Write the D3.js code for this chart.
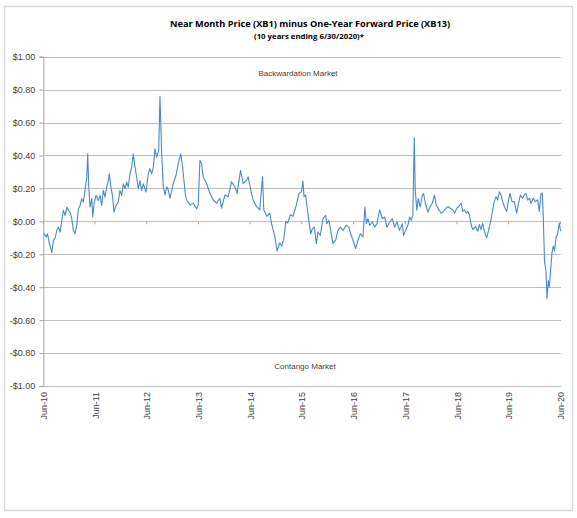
<!DOCTYPE html>
<html>
<head>
<meta charset="utf-8">
<script src="https://cdn.jsdelivr.net/npm/d3@7"></script>
<style>
  html, body { margin: 0; padding: 0; background: #fff; }
  svg { display: block; }
</style>
</head>
<body>
<svg id="chart" width="577" height="518"></svg>
<script>
// ---- Data ----
const titleText = "Near Month Price (XB1) minus One-Year Forward Price (XB13)";
const subtitleText = "(10 years ending 6/30/2020)*";
const upperNote = "Backwardation Market";
const lowerNote = "Contango Market";

const yTickValues = [1.0, 0.8, 0.6, 0.4, 0.2, 0.0, -0.2, -0.4, -0.6, -0.8, -1.0];
const xTickLabels = ["Jun-10","Jun-11","Jun-12","Jun-13","Jun-14","Jun-15","Jun-16","Jun-17","Jun-18","Jun-19","Jun-20"];
const xTickYears = [2010,2011,2012,2013,2014,2015,2016,2017,2018,2019,2020];

// decimal-year dates of the series
const seriesYears = [
2010.500,2010.548,2010.573,2010.612,2010.658,2010.689,2010.722,2010.755,2010.786,2010.819,
2010.851,2010.882,2010.915,2010.948,2010.979,2011.012,2011.044,2011.075,2011.108,2011.141,
2011.172,2011.205,2011.237,2011.268,2011.301,2011.334,2011.353,2011.373,2011.398,2011.431,
2011.450,2011.475,2011.514,2011.558,2011.591,2011.624,2011.654,2011.687,2011.720,2011.751,
2011.770,2011.797,2011.836,2011.861,2011.900,2011.944,2011.977,2012.010,2012.041,2012.073,
2012.106,2012.137,2012.170,2012.203,2012.234,2012.266,2012.299,2012.330,2012.363,2012.396,
2012.427,2012.479,2012.523,2012.556,2012.589,2012.620,2012.653,2012.685,2012.724,2012.749,
2012.782,2012.813,2012.846,2012.878,2012.909,2012.942,2013.006,2013.058,2013.102,2013.149,
2013.187,2013.212,2013.237,2013.264,2013.328,2013.392,2013.458,2013.488,2013.521,2013.554,
2013.585,2013.651,2013.714,2013.778,2013.844,2013.907,2013.940,2014.004,2014.068,2014.133,
2014.197,2014.241,2014.307,2014.357,2014.423,2014.454,2014.519,2014.550,2014.616,2014.680,
2014.732,2014.757,2014.820,2014.873,2014.905,2014.969,2015.013,2015.066,2015.104,2015.143,
2015.182,2015.220,2015.272,2015.322,2015.388,2015.438,2015.485,2015.515,2015.535,2015.568,
2015.593,2015.631,2015.664,2015.697,2015.736,2015.774,2015.805,2015.851,2015.902,2015.954,
2015.979,2016.017,2016.050,2016.095,2016.147,2016.191,2016.238,2016.288,2016.353,2016.403,
2016.436,2016.481,2016.533,2016.577,2016.623,2016.674,2016.712,2016.739,2016.770,2016.803,
2016.855,2016.900,2016.944,2016.996,2017.048,2017.093,2017.137,2017.189,2017.241,2017.286,
2017.330,2017.382,2017.434,2017.460,2017.498,2017.543,2017.575,2017.608,2017.639,2017.666,
2017.685,2017.716,2017.743,2017.782,2017.820,2017.846,2017.884,2017.929,2017.975,2018.014,
2018.058,2018.091,2018.141,2018.187,2018.232,2018.284,2018.315,2018.361,2018.411,2018.450,
2018.488,2018.527,2018.573,2018.604,2018.637,2018.670,2018.701,2018.734,2018.759,2018.797,
2018.849,2018.894,2018.927,2018.959,2018.990,2019.023,2019.068,2019.106,2019.152,2019.183,
2019.216,2019.249,2019.280,2019.313,2019.346,2019.376,2019.409,2019.454,2019.492,2019.519,
2019.558,2019.602,2019.647,2019.685,2019.718,2019.763,2019.795,2019.828,2019.859,2019.892,
2019.925,2019.969,2020.008,2020.052,2020.085,2020.118,2020.143,2020.162,2020.187,2020.214,
2020.234,2020.259,2020.278,2020.303,2020.330,2020.355,2020.380,2020.407,2020.438,2020.471,
2020.496
];

// near month minus one-year forward spread ($)
const seriesValues = [
-0.070,-0.095,-0.075,-0.135,-0.190,-0.115,-0.100,-0.055,-0.035,-0.065,
 0.005, 0.067, 0.036, 0.087, 0.067, 0.056, 0.016,-0.055,-0.075,-0.024,
 0.077, 0.097, 0.138, 0.117, 0.188, 0.268, 0.410, 0.208, 0.087, 0.138,
 0.026, 0.107, 0.158, 0.127, 0.158, 0.097, 0.188, 0.147, 0.208, 0.248,
 0.289, 0.218, 0.147, 0.056, 0.097, 0.117, 0.188, 0.158, 0.228, 0.198,
 0.238, 0.208, 0.289, 0.330, 0.410, 0.330, 0.268, 0.198, 0.248, 0.188,
 0.228, 0.178, 0.289, 0.320, 0.289, 0.330, 0.440, 0.390, 0.430, 0.760,
 0.410, 0.210, 0.160, 0.210, 0.190, 0.140, 0.230, 0.280, 0.350, 0.410,
 0.330, 0.250, 0.170, 0.130, 0.100, 0.110, 0.077, 0.100, 0.370, 0.350,
 0.270, 0.230, 0.170, 0.130, 0.110, 0.140, 0.080, 0.160, 0.150, 0.240,
 0.210, 0.170, 0.310, 0.230, 0.250, 0.270, 0.170, 0.130, 0.090, 0.070,
 0.270, 0.070, 0.030, 0.050,-0.010,-0.090,-0.180,-0.130,-0.150,-0.110,
 0.000,-0.010, 0.040, 0.030, 0.100, 0.170, 0.180, 0.245, 0.150, 0.160,
 0.090, 0.000,-0.075,-0.045,-0.035,-0.135,-0.065,-0.085, 0.016, 0.036,
-0.014, 0.006,-0.055,-0.135,-0.115,-0.055,-0.035,-0.055,-0.024,-0.035,
-0.075,-0.115,-0.165,-0.115,-0.075,-0.095, 0.087,-0.014, 0.016,-0.024,
-0.004,-0.035,-0.014, 0.070, 0.016, 0.026,-0.035,-0.004, 0.016,-0.035,
-0.004,-0.055,-0.014,-0.085,-0.055,-0.024, 0.026, 0.006, 0.036, 0.507,
 0.188, 0.067, 0.138, 0.087, 0.158, 0.168, 0.107, 0.056, 0.090, 0.110,
 0.160, 0.100, 0.070, 0.050, 0.060, 0.080, 0.090, 0.080, 0.070, 0.050,
 0.080, 0.090, 0.110, 0.060, 0.070, 0.050, 0.060, 0.040,-0.010,-0.050,
-0.030,-0.060,-0.020,-0.050,-0.010,-0.060,-0.100,-0.050, 0.010, 0.070,
 0.120, 0.150, 0.130, 0.180, 0.160, 0.120, 0.090, 0.060, 0.130, 0.170,
 0.120, 0.120, 0.050, 0.110, 0.160, 0.140, 0.160, 0.170, 0.130, 0.140,
 0.110, 0.140, 0.120, 0.130, 0.060, 0.170, 0.170, 0.030,-0.250,-0.300,
-0.470,-0.360,-0.400,-0.300,-0.190,-0.150,-0.180,-0.100,-0.080,-0.010,
-0.060
];

// ---- Drawing ----
function decimalYearToDate(y) {
  const yr = Math.floor(y);
  const s = Date.UTC(yr, 0, 1), e = Date.UTC(yr + 1, 0, 1);
  return new Date(s + (y - yr) * (e - s));
}
const series = seriesYears.map((y, i) => ({ date: decimalYearToDate(y), value: seriesValues[i] }));

const svg = d3.select("#chart");
const plot = { left: 43.3, right: 560.5, top: 56.7, bottom: 386 };

const x = d3.scaleUtc()
  .domain([new Date(Date.UTC(2010, 5, 30)), new Date(Date.UTC(2020, 5, 30))])
  .range([plot.left, plot.right]);
const y = d3.scaleLinear().domain([-1, 1]).range([plot.bottom, plot.top]);

const font = "'Liberation Sans', Arial, sans-serif";

// outer border
svg.append("rect")
  .attr("x", 4.5).attr("y", 6.5).attr("width", 568).attr("height", 504)
  .attr("fill", "#fff").attr("stroke", "#d9d9d9").attr("stroke-width", 1.5);

// titles
svg.append("text")
  .attr("x", 310).attr("y", 27.3)
  .attr("text-anchor", "middle")
  .attr("font-family", "'Open Sans', 'Liberation Sans', sans-serif")
  .attr("font-weight", "bold").attr("font-size", 9.5)
  .attr("textLength", 280).attr("lengthAdjust", "spacingAndGlyphs")
  .attr("fill", "#000")
  .text(titleText);
svg.append("text")
  .attr("x", 309).attr("y", 39)
  .attr("text-anchor", "middle")
  .attr("font-family", "'Open Sans', 'Liberation Sans', sans-serif")
  .attr("font-weight", "bold").attr("font-size", 7)
  .attr("textLength", 110).attr("lengthAdjust", "spacingAndGlyphs")
  .attr("fill", "#000")
  .text(subtitleText);

// gridlines
svg.append("g")
  .selectAll("line").data(yTickValues).join("line")
  .attr("x1", plot.left).attr("x2", plot.right + 0.5)
  .attr("y1", d => Math.round(y(d)) + 0.5).attr("y2", d => Math.round(y(d)) + 0.5)
  .attr("stroke", "#c0c0c0").attr("stroke-width", 1);

// y axis
const yAxis = d3.axisLeft(y)
  .tickValues(yTickValues)
  .tickSize(4)
  .tickPadding(4)
  .tickFormat(d => (d < 0 ? "-$" : "$") + Math.abs(d).toFixed(2));
const yg = svg.append("g").attr("transform", `translate(${plot.left},0)`).call(yAxis);
yg.select(".domain").attr("stroke", "#a6a6a6");
yg.selectAll(".tick line").attr("stroke", "#a6a6a6");
yg.selectAll(".tick text")
  .attr("font-family", font).attr("font-size", 9).attr("fill", "#404040");

// x tick marks on the zero line
const xTickDates = xTickYears.map(yr => new Date(Date.UTC(yr, 5, 30)));
svg.append("g")
  .selectAll("line").data(xTickDates).join("line")
  .attr("x1", d => x(d)).attr("x2", d => x(d))
  .attr("y1", y(0)).attr("y2", y(0) + 3)
  .attr("stroke", "#c8a080").attr("stroke-width", 1);

// x tick labels (rotated, below plot)
svg.append("g")
  .selectAll("text").data(xTickDates).join("text")
  .attr("transform", d => `translate(${x(d) + 0.5},${plot.bottom + 6}) rotate(-90)`)
  .attr("text-anchor", "end")
  .attr("dy", "0.35em")
  .attr("font-family", font).attr("font-size", 9).attr("fill", "#404040")
  .text((d, i) => xTickLabels[i]);

// annotations
svg.append("text")
  .attr("x", 298).attr("y", 75.7).attr("text-anchor", "middle")
  .attr("font-family", font).attr("font-size", 8).attr("fill", "#404040")
  .text(upperNote);
svg.append("text")
  .attr("x", 305).attr("y", 368.5).attr("text-anchor", "middle")
  .attr("font-family", font).attr("font-size", 8).attr("fill", "#404040")
  .text(lowerNote);

// series line
const line = d3.line().x(d => x(d.date)).y(d => y(d.value));
svg.append("path")
  .datum(series)
  .attr("d", line)
  .attr("fill", "none")
  .attr("stroke", "#4a89cc")
  .attr("stroke-width", 1.1)
  .attr("stroke-linejoin", "round");
</script>
</body>
</html>
